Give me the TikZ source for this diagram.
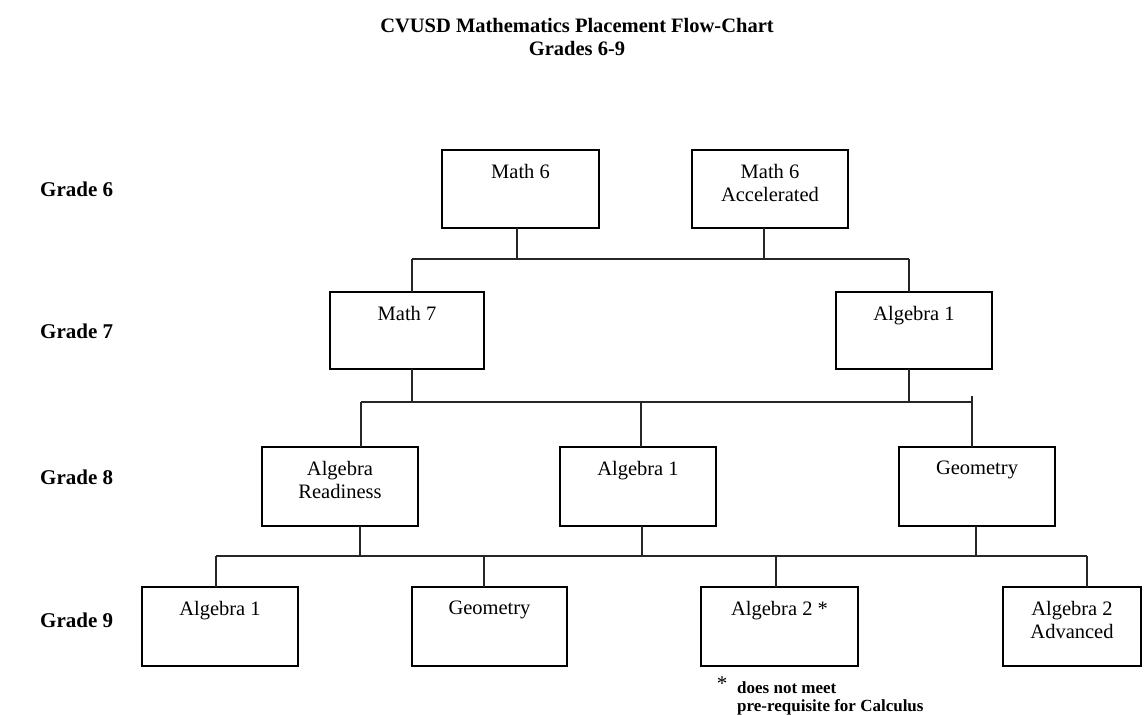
\documentclass[tikz,border=0pt]{standalone}
\usepackage{fontspec}
\setmainfont{Liberation Serif}
\usetikzlibrary{calc}
\begin{document}
\begin{tikzpicture}[x=1pt,y=-1pt,
  box/.style={draw=black, line width=2.8pt, outer sep=0pt, inner sep=0pt, fill=white},
  btext/.style={anchor=north, inner sep=0pt, align=center, font=\fontsize{20.5}{23.5}\selectfont, yshift=-14pt},
  conn/.style={draw=black!85, line width=1.3pt},
  grade/.style={anchor=west, inner sep=0pt, font=\bfseries\fontsize{21}{24}\selectfont},
  title/.style={inner sep=0pt, font=\bfseries\fontsize{20.5}{22}\selectfont},
  note/.style={anchor=west, inner sep=0pt, font=\bfseries\fontsize{17}{19}\selectfont}]
\useasboundingbox (0,0) rectangle (1144,715);

% title
\node[title] (t1) at (577,26) {CVUSD Mathematics Placement Flow-Chart};
\node[title] (t2) at (577,48) {Grades 6-9};

% grade labels
\node[grade] (g6l) at (40,189) {Grade 6};
\node[grade] (g7l) at (40,331) {Grade 7};
\node[grade] (g8l) at (40,477) {Grade 8};
\node[grade] (g9l) at (40,620) {Grade 9};

% grade 6
\node[box, minimum width=157, minimum height=78] (m6) at (520.5,189) {};
\node[btext] (m6t) at (m6.north) {Math 6};
\node[box, minimum width=156, minimum height=78] (m6a) at (770,189) {};
\node[btext] (m6at) at (m6a.north) {Math 6\\Accelerated};

% grade 7
\node[box, minimum width=154, minimum height=77] (m7) at (407,330.5) {};
\node[btext] (m7t) at (m7.north) {Math 7};
\node[box, minimum width=156, minimum height=77] (a7) at (914,330.5) {};
\node[btext] (a7t) at (a7.north) {Algebra 1};

% grade 8
\node[box, minimum width=156, minimum height=79] (ar) at (340,486.5) {};
\node[btext] (art) at (ar.north) {Algebra\\Readiness};
\node[box, minimum width=156, minimum height=79] (a8) at (638,486.5) {};
\node[btext] (a8t) at (a8.north) {Algebra 1};
\node[box, minimum width=156, minimum height=79] (g8) at (977,486.5) {};
\node[btext] (g8t) at (g8.north) {Geometry};

% grade 9
\node[box, minimum width=156, minimum height=79] (a9) at (220,626.5) {};
\node[btext] (a9t) at (a9.north) {Algebra 1};
\node[box, minimum width=155, minimum height=79] (g9) at (489.5,626.5) {};
\node[btext] (g9t) at (g9.north) {Geometry};
\node[box, minimum width=157, minimum height=79] (a2) at (779.5,626.5) {};
\node[btext] (a2t) at (a2.north) {Algebra 2 *};
\node[box, minimum width=138, minimum height=79] (a2a) at (1072,626.5) {};
\node[btext] (a2at) at (a2a.north) {Algebra 2\\Advanced};

% footnote
\node[inner sep=0pt, font=\fontsize{21}{21}\selectfont] (star) at (722,684) {*};
\node[note] (n1) at (737,688) {does not meet};
\node[note] (n2) at (737,707) {pre-requisite for Calculus};

% bus 1 (grade 6 -> grade 7)
\coordinate (v1) at (517,259);
\coordinate (v2) at (764,259);
\coordinate (b1l) at (412,259);
\coordinate (b1r) at (909,259);
\draw[conn] (m6.south -| v1) -- (v1);
\draw[conn] (m6a.south -| v2) -- (v2);
\draw[conn] (b1l) -- (b1r);
\draw[conn] (b1l) -- (b1l |- m7.north);
\draw[conn] (b1r) -- (b1r |- a7.north);

% bus 2 (grade 7 -> grade 8)
\coordinate (u1) at (412,402);
\coordinate (u2) at (909,402);
\coordinate (b2l) at (361,402);
\coordinate (b2m) at (641,402);
\coordinate (b2r) at (972,402);
\coordinate (b2t) at (972,396);
\draw[conn] (m7.south -| u1) -- (u1);
\draw[conn] (a7.south -| u2) -- (u2);
\draw[conn] (b2l) -- (b2r);
\draw[conn] (b2l) -- (b2l |- ar.north);
\draw[conn] (b2m) -- (b2m |- a8.north);
\draw[conn] (b2t) -- (b2t |- g8.north);

% bus 3 (grade 8 -> grade 9)
\coordinate (w1) at (360,556);
\coordinate (w2) at (642,556);
\coordinate (w3) at (976,556);
\coordinate (c1) at (216,556);
\coordinate (c2) at (484,556);
\coordinate (c3) at (776,556);
\coordinate (c4) at (1087,556);
\draw[conn] (ar.south -| w1) -- (w1);
\draw[conn] (a8.south -| w2) -- (w2);
\draw[conn] (g8.south -| w3) -- (w3);
\draw[conn] (c1) -- (c4);
\draw[conn] (c1) -- (c1 |- a9.north);
\draw[conn] (c2) -- (c2 |- g9.north);
\draw[conn] (c3) -- (c3 |- a2.north);
\draw[conn] (c4) -- (c4 |- a2a.north);
\end{tikzpicture}
\end{document}
